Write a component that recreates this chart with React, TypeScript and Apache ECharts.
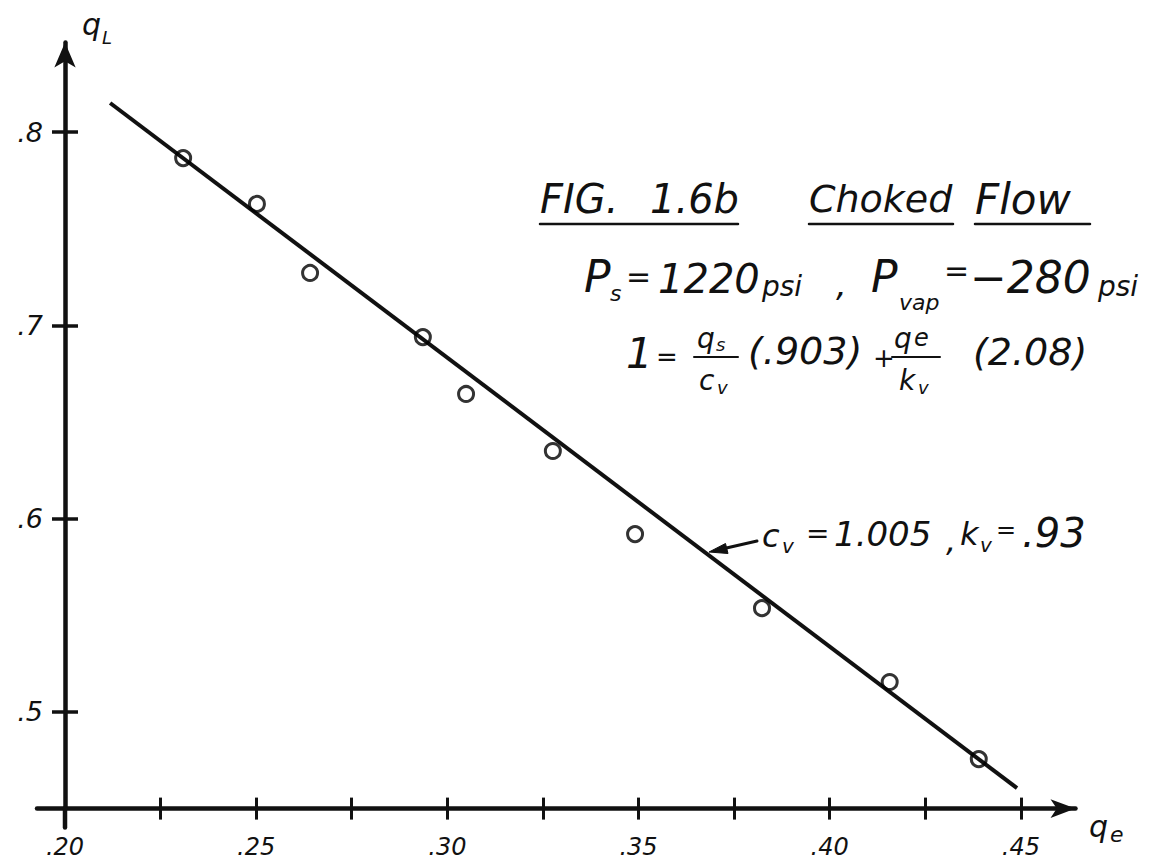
import React, { useEffect, useRef } from "react";
import * as echarts from "echarts";

// ---- data ----
const qe = [0.2309, 0.2502, 0.2641, 0.2936, 0.3049, 0.3276, 0.3491, 0.3823, 0.4157, 0.439];
const qL = [0.7865, 0.7628, 0.7271, 0.6939, 0.6645, 0.635, 0.592, 0.5537, 0.5155, 0.4756];
const fitQe = [0.2118, 0.449];
const fitQL = [0.815, 0.4606];
const xTickValues = [0.2, 0.225, 0.25, 0.275, 0.3, 0.325, 0.35, 0.375, 0.4, 0.425, 0.45];
const xLabelValues = [0.2, 0.25, 0.3, 0.35, 0.4, 0.45];
const yTickValues = [0.5, 0.6, 0.7, 0.8];

const INK = "#111";
const FONT = "DejaVu Sans";

type Piece = [string, number, number, number, boolean?];

// annotation texts: [text, left x, centre y, font size, italic]
const notes: Piece[] = [
  ["FIG.", 540, 199, 40, true],
  ["1.6b", 650, 199, 40, true],
  ["Choked", 809, 199, 38, true],
  ["Flow", 975, 199, 42, true],
  ["P", 584, 276, 44, true],
  ["s", 610, 293, 22, true],
  ["=", 626, 276, 30, false],
  ["1220", 658, 279, 40, true],
  ["psi", 762, 286, 28, true],
  [",", 836, 284, 34, true],
  ["P", 871, 276, 44, true],
  ["vap", 899, 302, 22, true],
  ["=", 944, 270, 30, false],
  ["\u2212280", 970, 277, 44, true],
  ["psi", 1098, 286, 28, true],
  ["1", 626, 353, 42, true],
  ["=", 656, 357, 26, false],
  ["q", 697, 338, 28, true],
  ["s", 716, 344, 18, true],
  ["c", 699, 380, 28, true],
  ["v", 717, 387, 18, true],
  ["(.903)", 748, 351, 38, true],
  ["+", 873, 358, 26, false],
  ["q", 894, 338, 28, true],
  ["e", 914, 338, 24, true],
  ["k", 899, 380, 28, true],
  ["v", 918, 387, 18, true],
  ["(2.08)", 973, 352, 38, true],
  ["c", 762, 536, 32, true],
  ["v", 782, 546, 20, true],
  ["=", 806, 533, 28, false],
  ["1.005", 834, 534, 34, true],
  [",", 946, 540, 32, true],
  ["k", 960, 534, 32, true],
  ["v", 980, 545, 20, true],
  ["=", 996, 530, 24, false],
  [".93", 1022, 533, 40, true],
  ["q", 82, 24, 30, true],
  ["L", 102, 37, 18, true],
  ["q", 1089, 826, 30, true],
  ["e", 1110, 834, 22, true],
];

// strokes of the annotation: [x1, y1, x2, y2, width]
const strokes: number[][] = [
  [540, 224, 738, 224, 2.5],
  [809, 224, 953, 224, 2.5],
  [975, 224, 1090, 224, 2.5],
  [694, 357, 738, 357, 2],
  [892, 357, 940, 357, 2],
  [757, 541, 722, 549, 3],
];

export default function App() {
  const ref = useRef<HTMLDivElement>(null);

  useEffect(() => {
    if (!ref.current) return;
    const chart = echarts.init(ref.current, undefined, { renderer: "svg" });

    const textEls = notes.map(([t, x, y, s, it]) => ({
      type: "text",
      x,
      y,
      z: 50,
      style: {
        text: t,
        fontSize: s,
        fontFamily: FONT,
        fontStyle: it ? "italic" : "normal",
        fill: INK,
        align: "left",
        verticalAlign: "middle",
      },
    }));
    const lineEls = strokes.map(([x1, y1, x2, y2, w]) => ({
      type: "line",
      z: 50,
      shape: { x1, y1, x2, y2 },
      style: { stroke: INK, lineWidth: w, lineCap: "round" },
    }));
    const arrowHead = {
      type: "polygon",
      z: 50,
      shape: { points: [[709, 552], [728, 553.5], [725.5, 543.5]] },
      style: { fill: INK, stroke: INK, lineWidth: 1 },
    };

    const scatterData = qe.map((x, i) => [x, qL[i]]);
    const fitData = fitQe.map((x, i) => [x, fitQL[i]]);

    const xMin = 0.2,
      xMax = 0.4643,
      yMin = 0.45,
      yMax = 0.8463;

    const option: any = {
      animation: false,
      backgroundColor: "#fff",
      grid: {
        left: 65,
        right: 74.5,
        top: 42.5,
        bottom: 52.4,
        containLabel: false,
        outerBoundsMode: "none",
      },
      xAxis: [
        {
          type: "value",
          position: "bottom",
          min: xMin,
          max: xMax,
          splitLine: { show: false },
          axisLine: {
            show: true,
            lineStyle: { color: INK, width: 4.5 },
            symbol: ["none", "arrow"],
            symbolSize: [14, 25],
          },
          axisTick: {
            show: true,
            inside: false,
            length: 11,
            lineStyle: { color: INK, width: 3 },
            customValues: xTickValues,
          },
          axisLabel: {
            show: true,
            customValues: xLabelValues,
            margin: 26,
            fontSize: 24,
            lineHeight: 24,
            fontFamily: FONT,
            fontStyle: "italic",
            color: INK,
            formatter: (v: number) => v.toFixed(2).replace(/^0/, ""),
          },
        },
        {
          type: "value",
          position: "bottom",
          min: xMin,
          max: xMax,
          splitLine: { show: false },
          axisLine: { show: false },
          axisLabel: { show: false },
          axisTick: {
            show: true,
            inside: true,
            length: 11,
            lineStyle: { color: INK, width: 3 },
            customValues: xTickValues,
          },
        },
      ],
      yAxis: [
        {
          type: "value",
          position: "left",
          min: yMin,
          max: yMax,
          splitLine: { show: false },
          axisLine: {
            show: true,
            lineStyle: { color: INK, width: 4.5 },
            symbol: ["none", "arrow"],
            symbolSize: [16, 25],
          },
          axisTick: {
            show: true,
            inside: false,
            length: 13,
            lineStyle: { color: INK, width: 3.5 },
            customValues: yTickValues,
          },
          axisLabel: {
            show: true,
            customValues: yTickValues,
            margin: 22,
            fontSize: 27,
            fontFamily: FONT,
            fontStyle: "italic",
            color: INK,
            formatter: (v: number) => v.toFixed(1).replace(/^0/, ""),
          },
        },
        {
          type: "value",
          position: "left",
          min: yMin,
          max: yMax,
          splitLine: { show: false },
          axisLine: { show: false },
          axisLabel: { show: false },
          axisTick: {
            show: true,
            inside: true,
            length: 13,
            lineStyle: { color: INK, width: 3.5 },
            customValues: yTickValues,
          },
        },
      ],
      series: [
        {
          type: "line",
          name: "fit",
          data: fitData,
          xAxisIndex: 0,
          yAxisIndex: 0,
          symbol: "none",
          lineStyle: { color: INK, width: 4 },
          z: 2,
        },
        {
          type: "scatter",
          name: "measured",
          data: scatterData,
          xAxisIndex: 0,
          yAxisIndex: 0,
          symbol: "circle",
          symbolSize: 15,
          itemStyle: { color: "rgba(0,0,0,0)", borderColor: "#000", borderWidth: 3 },
          z: 3,
        },
      ],
      graphic: [...lineEls, arrowHead, ...textEls],
    };

    chart.setOption(option);

    // short overhangs of the hand-drawn axes past their crossing point
    const x0 = chart.convertToPixel({ xAxisIndex: 0 }, xMin) as number;
    const y0 = chart.convertToPixel({ yAxisIndex: 0 }, yMin) as number;
    chart.setOption({
      graphic: [
        ...lineEls,
        arrowHead,
        ...textEls,
        {
          type: "line",
          z: 40,
          shape: { x1: x0 - 28, y1: y0, x2: x0, y2: y0 },
          style: { stroke: INK, lineWidth: 4.5, lineCap: "round" },
        },
        {
          type: "line",
          z: 40,
          shape: { x1: x0, y1: y0, x2: x0, y2: y0 + 19 },
          style: { stroke: INK, lineWidth: 4.5, lineCap: "round" },
        },
      ],
    });

    return () => chart.dispose();
  }, []);

  return (
    <div
      ref={ref}
      style={{ position: "absolute", left: 0, top: 0, width: 1150, height: 861, background: "#fff" }}
    />
  );
}
